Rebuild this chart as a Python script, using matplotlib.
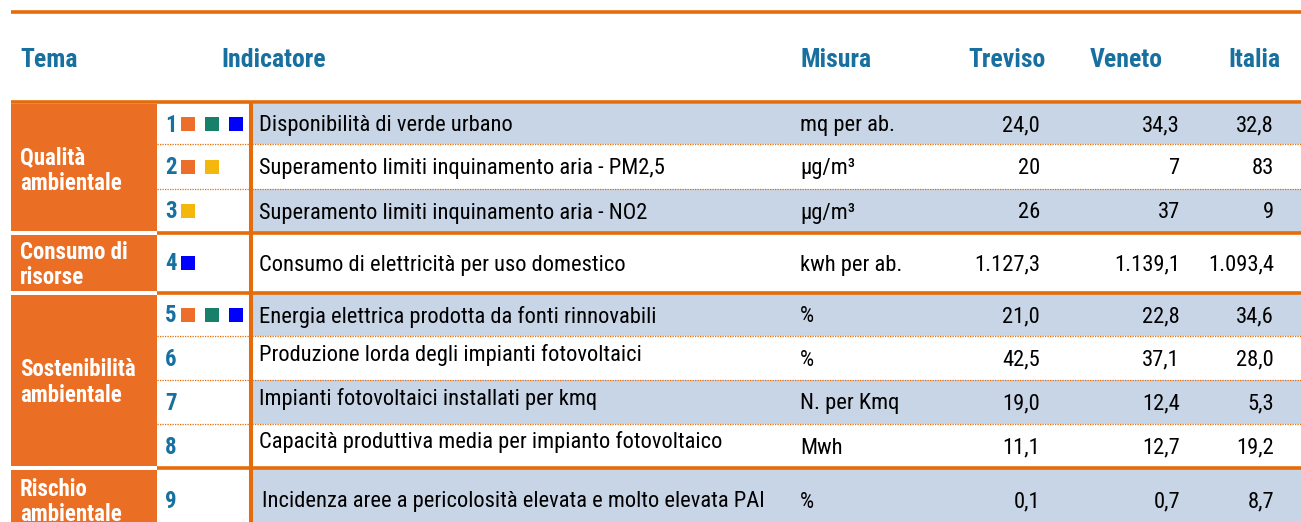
import matplotlib
matplotlib.use("Agg")
import matplotlib.pyplot as plt
from matplotlib.patches import Rectangle
from matplotlib import font_manager

# ---------------- data ----------------
headers = ["Tema", "Indicatore", "Misura", "Treviso", "Veneto", "Italia"]
temi = ["Qualità\nambientale", "Consumo di\nrisorse", "Sostenibilità\nambientale", "Rischio\nambientale"]
tema_rows = [3, 1, 4, 1]  # number of indicators per tema
numeri = ["1", "2", "3", "4", "5", "6", "7", "8", "9"]
marker_sets = [["o", "g", "b"], ["o", "y"], ["y"], ["b"], ["o", "g", "b"], [], [], [], []]
indicatori = [
    "Disponibilità di verde urbano",
    "Superamento limiti inquinamento aria - PM2,5",
    "Superamento limiti inquinamento aria - NO2",
    "Consumo di elettricità per uso domestico",
    "Energia elettrica prodotta da fonti rinnovabili",
    "Produzione lorda degli impianti fotovoltaici",
    "Impianti fotovoltaici installati per kmq",
    "Capacità produttiva media per impianto fotovoltaico",
    "Incidenza aree a pericolosità elevata e molto elevata PAI",
]
misure = ["mq per ab.", "µg/m³", "µg/m³", "kwh per ab.", "%", "%", "N. per Kmq", "Mwh", "%"]
treviso = ["24,0", "20", "26", "1.127,3", "21,0", "42,5", "19,0", "11,1", "0,1"]
veneto = ["34,3", "7", "37", "1.139,1", "22,8", "37,1", "12,4", "12,7", "0,7"]
italia = ["32,8", "83", "9", "1.093,4", "34,6", "28,0", "5,3", "19,2", "8,7"]

# ---------------- style ----------------
names = {f.name for f in font_manager.fontManager.ttflist}
if "Roboto Condensed" in names:
    FAM = ["Roboto Condensed", "DejaVu Sans"]
    S_BODY, S_HEAD, S_TEMA, S_NUM = 16.2, 18.5, 16.5, 16.5
else:
    FAM = ["Liberation Sans", "DejaVu Sans"]
    S_BODY, S_HEAD, S_TEMA, S_NUM = 14.2, 16.5, 14.5, 15.5
plt.rcParams["font.family"] = FAM

ORANGE_LINE = "#E46C0A"
ORANGE_FILL = "#EB6E25"
HEAD_BLUE = "#17709F"
ROW_BLUE = "#C8D5E6"
SQ_COLORS = {"o": "#EC6E2A", "g": "#17806A", "b": "#0000FF", "y": "#F4B80C"}

W, H = 1301, 522
fig = plt.figure(figsize=(W / 100, H / 100), dpi=100)
ax = fig.add_axes([0, 0, 1, 1])
ax.set_xlim(0, W)
ax.set_ylim(H, 0)
ax.axis("off")

# layout (pixels)
row_edges = [104, 144, 189, 233, 293, 336, 380, 424, 468, 534]
x_left, x_tema_r, x_vline, x_blue, x_right = 11, 157, 251, 253, W
y_top_line, y_head_line, y_head = 12, 102, 60
header_x = [20, 221, 800, 968, 1090, 1228]
x_num, sq_x0, sq_step, sq_size = 165, 181, 24, 14
x_ind, x_mis = 259, 800
val_right = [1040, 1180, 1274]
TXT_DY = 2
ind_dy = [0, 0, 0, 0, 0, -5, -5, -6, 0]
ind_dx = [0, 0, 0, 0, 0, 0, 0, 0, 3]

# shaded rows
for i in range(len(indicatori)):
    if i % 2 == 0:
        ax.add_patch(Rectangle((x_blue, row_edges[i]), x_right - x_blue,
                               row_edges[i + 1] - row_edges[i], color=ROW_BLUE, lw=0, zorder=0))

# tema blocks
r = 0
group_bounds = []
for t, n in zip(temi, tema_rows):
    y0, y1 = row_edges[r], row_edges[r + n]
    group_bounds.append((r, r + n))
    top = y0 + (0 if r == 0 else 2)
    ax.add_patch(Rectangle((x_left, top), x_tema_r - x_left, (y1 - 2) - top,
                           color=ORANGE_FILL, lw=0, zorder=1))
    yc = (y0 + y1) / 2 if r + n < len(indicatori) else 500
    ax.text(20, yc + TXT_DY, t, color="white", fontsize=S_TEMA, fontweight="bold",
            va="center", ha="left", linespacing=1.12, zorder=3)
    r += n

# dotted and solid separators
group_ends = {b for _, b in group_bounds}
for k in range(1, len(indicatori)):
    y = row_edges[k]
    if k in group_ends:
        ax.plot([x_tema_r, x_right], [y, y], color=ORANGE_LINE, lw=2.6, solid_capstyle="butt", zorder=2)
    else:
        ax.plot([x_tema_r, x_right], [y, y], color=ORANGE_LINE, lw=0.9,
                linestyle=(0, (1, 1)), zorder=2)

ax.plot([x_left, x_right], [y_top_line, y_top_line], color=ORANGE_LINE, lw=2.6, solid_capstyle="butt")
ax.plot([x_left, x_right], [y_head_line, y_head_line], color=ORANGE_LINE, lw=2.6, solid_capstyle="butt")
ax.plot([x_vline, x_vline], [y_head_line, H + 5], color=ORANGE_LINE, lw=2.9, solid_capstyle="butt", zorder=2)

# headers
for hx, h in zip(header_x, headers):
    ax.text(hx, y_head, h, color=HEAD_BLUE, fontsize=S_HEAD, fontweight="bold", va="center", ha="left")

# rows
for i in range(len(indicatori)):
    yc = (row_edges[i] + row_edges[i + 1]) / 2
    if i == len(indicatori) - 1:
        yc = 500
    ax.text(x_num, yc + 1, numeri[i], color=HEAD_BLUE, fontsize=S_NUM, fontweight="bold", va="center", ha="left")
    for j, c in enumerate(marker_sets[i]):
        ax.add_patch(Rectangle((sq_x0 + j * sq_step, yc - sq_size / 2), sq_size, sq_size,
                               color=SQ_COLORS[c], lw=0, zorder=3))
    ax.text(x_ind + ind_dx[i], yc + ind_dy[i] + TXT_DY, indicatori[i], color="black",
            fontsize=S_BODY, va="center", ha="left")
    ax.text(x_mis, yc + TXT_DY, misure[i], color="black", fontsize=S_BODY, va="center", ha="left")
    for vx, vals in zip(val_right, [treviso, veneto, italia]):
        ax.text(vx, yc + TXT_DY, vals[i], color="black", fontsize=S_BODY, va="center", ha="right")

fig.savefig("out.png", dpi=100)
